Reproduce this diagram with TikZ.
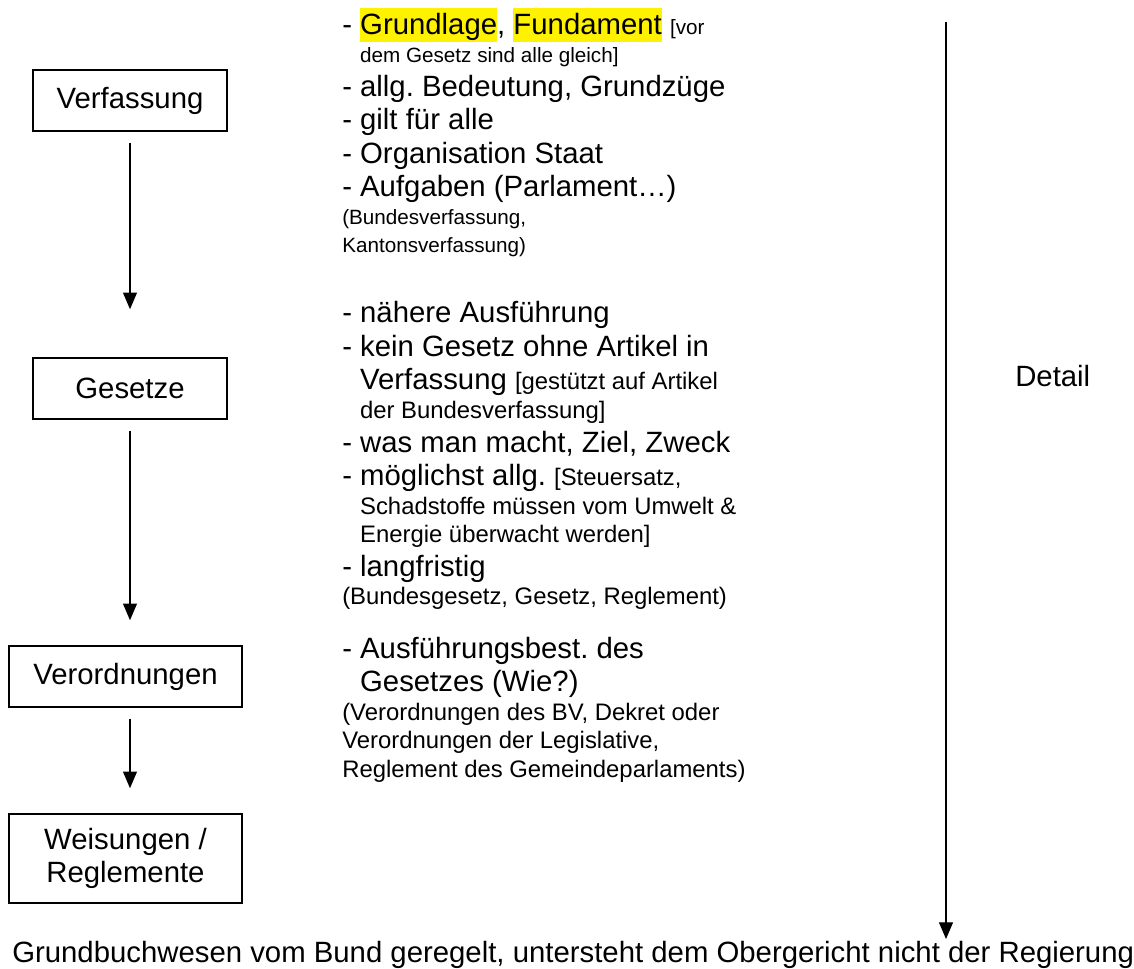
\documentclass[tikz,border=0pt]{standalone}
\usepackage{fontspec}
\setmainfont{Liberation Sans}
\usetikzlibrary{arrows.meta}

\newcommand\gross{\fontsize{22pt}{25.1pt}\selectfont}
\newcommand\klein{\fontsize{15.5pt}{21pt}\selectfont}
\newcommand\mittel{\fontsize{17.9pt}{21.5pt}\selectfont}
\newcommand\ind{\hspace*{13.4pt}}
\newcommand\hl[1]{{\setlength\fboxsep{0pt}\colorbox{yellow}{\rule[-0.24em]{0pt}{1.16em}#1}}}
\newcommand\textblock[1]{\vtop{\hsize=500pt\parindent=0pt\parskip=0pt\frenchspacing\gross #1}}

\tikzset{
  stufe/.style={draw, line width=1.2pt, inner sep=0pt, align=center, font=\gross},
  pfeil/.style={line width=0.9pt, -{Triangle[width=10.5pt,length=12.5pt]}},
  txt/.style={anchor=base west, inner sep=0pt, font=\gross}
}

\begin{document}
\begin{tikzpicture}[x=0.75pt,y=-0.75pt]
    \useasboundingbox (0,0) rectangle (1134,969);
    % Stufen links
    \node[stufe, minimum width=145.5pt, minimum height=45.75pt] (verf) at (130,100.5) {Verfassung};
    \node[stufe, minimum width=145.5pt, minimum height=45.75pt] (ges) at (130,388.5) {Gesetze};
    \node[stufe, minimum width=174.75pt, minimum height=45.75pt] (verord) at (125.5,676.5) {Verordnungen};
    \node[stufe, minimum width=174.75pt, minimum height=66.75pt] (weis) at (125.5,858.5) {Weisungen /\\Reglemente};
    \draw[pfeil, shorten <=8.25pt, shorten >=36pt] (verf.south) -- (ges.north);
    \draw[pfeil, shorten <=8.25pt, shorten >=18.75pt] (ges.south) -- (verord.north -| ges.south);
    \draw[pfeil, shorten <=8.25pt, shorten >=18.75pt] (verord.south -| ges.south) -- (weis.north -| ges.south);
    % Erklaerungen
    \node[txt] (verfT) at (342,35) {\textblock{%
      - \hl{Grundlage}, \hl{Fundament} {\klein [vor}\par
      {\klein\ind dem Gesetz sind alle gleich]\par}
      - allg. Bedeutung, Grundzüge\par
      - gilt für alle\par
      - Organisation Staat\par
      - Aufgaben (Parlament…)\par
      {\klein (Bundesverfassung,\par Kantonsverfassung)\par}}};
    \node[txt] (gesT) at (342,323) {\textblock{%
      - nähere Ausführung\par
      - kein Gesetz ohne Artikel in\par
      \ind Verfassung {\mittel [gestützt auf Artikel}\par
      {\mittel\ind der Bundesverfassung]\par}
      - was man macht, Ziel, Zweck\par
      - möglichst allg. {\mittel [Steuersatz,}\par
      {\mittel\ind Schadstoffe müssen vom Umwelt \&\par \ind Energie überwacht werden]\par}
      - langfristig\par
      {\mittel (Bundesgesetz, Gesetz, Reglement)\par}}};
    \node[txt] (verordT) at (342,658) {\textblock{%
      - Ausführungsbest. des\par
      \ind Gesetzes (Wie?)\par
      {\mittel (Verordnungen des BV, Dekret oder\par Verordnungen der Legislative,\par Reglement des Gemeindeparlaments)\par}}};
    % Detail-Pfeil rechts
    \coordinate (oben) at (946,22);
    \coordinate (unten) at (946,939);
    \draw[pfeil] (oben) -- (unten);
    \node[txt] (detail) at (1015,387) {Detail};
    \node[txt] (grund) at (12,962) {Grundbuchwesen vom Bund geregelt, untersteht dem Obergericht nicht der Regierung};
\end{tikzpicture}
\end{document}
